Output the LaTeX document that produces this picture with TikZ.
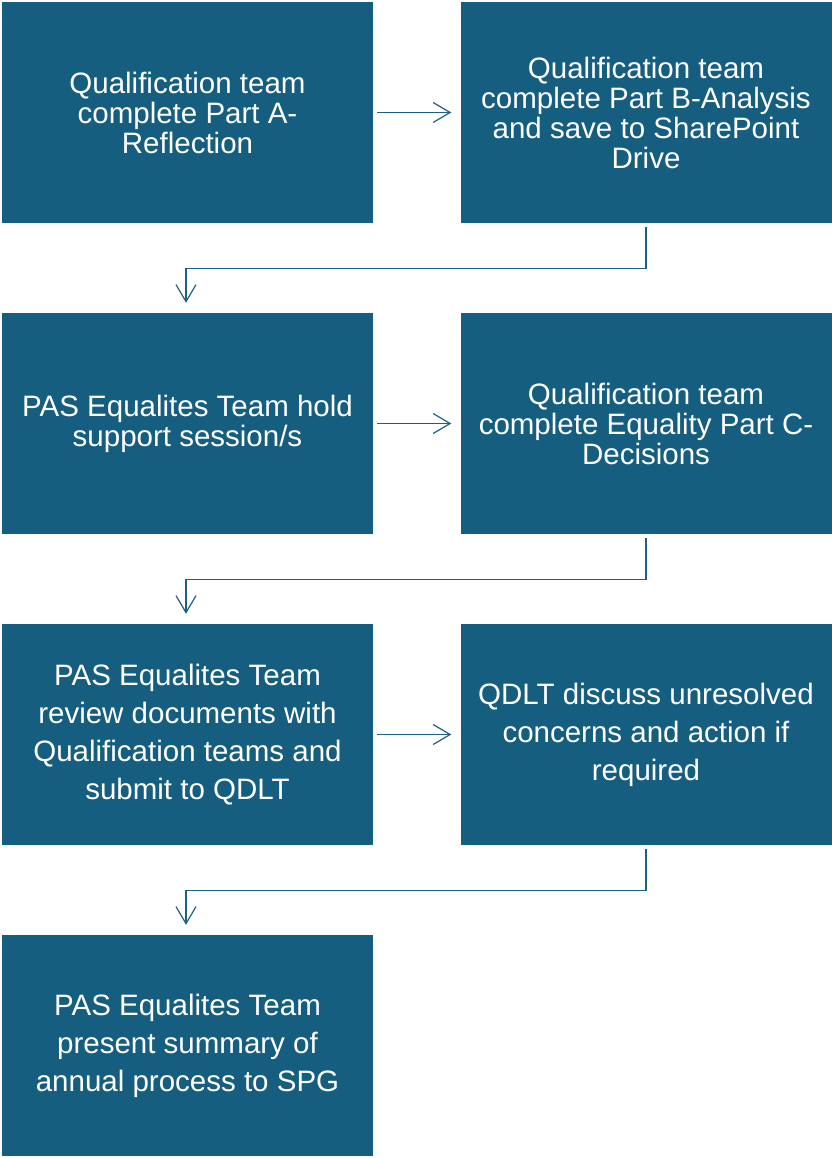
\documentclass[tikz,border=0pt]{standalone}
\usepackage{fontspec}
\setmainfont{Liberation Sans}
\usetikzlibrary{arrows.meta}
\definecolor{boxblue}{RGB}{22,94,128}
\definecolor{lineblue}{RGB}{30,96,130}
\tikzset{
  stepbox/.style={fill=boxblue, draw=none, minimum width=371pt, minimum height=221pt,
    inner sep=0pt, align=center, text=white, font=\fontsize{29.5}{30}\selectfont},
  widebox/.style={stepbox, font=\fontsize{29.5}{38}\selectfont},
  conn/.style={draw=lineblue, line width=1.2pt, -{Straight Barb[length=17pt,width=20pt,line width=1.2pt]}}
}
\begin{document}
\begin{tikzpicture}[x=1pt,y=-1pt]
\useasboundingbox (0,0) rectangle (831,1158);
\node[stepbox] (a) at (187.5,112.5) {Qualification team\\complete Part A-\\Reflection};
\node[stepbox] (b) at (646,112.5) {Qualification team\\complete Part B-Analysis\\and save to SharePoint\\Drive};
\node[stepbox] (c) at (187.5,423.5) {PAS Equalites Team hold\\support session/s};
\node[stepbox] (d) at (646,423.5) {Qualification team\\complete Equality Part C-\\Decisions};
\node[widebox] (e) at (187.5,734.5) {PAS Equalites Team\\review documents with\\Qualification teams and\\submit to QDLT};
\node[widebox] (f) at (646,734.5) {QDLT discuss unresolved\\concerns and action if\\required};
\node[widebox] (g) at (187.5,1045.5) {PAS Equalites Team\\present summary of\\annual process to SPG};
\draw[conn] ([xshift=4pt]a.east) -- ([xshift=-9pt]b.west);
\draw[conn] ([xshift=4pt]c.east) -- ([xshift=-9pt]d.west);
\draw[conn] ([xshift=4pt]e.east) -- ([xshift=-9pt]f.west);
\draw[conn] ([yshift=-4pt]b.south) |- ++(0,41) -| ([xshift=-1.5pt,yshift=10pt]c.north);
\draw[conn] ([yshift=-4pt]d.south) |- ++(0,41) -| ([xshift=-1.5pt,yshift=10pt]e.north);
\draw[conn] ([yshift=-4pt]f.south) |- ++(0,41) -| ([xshift=-1.5pt,yshift=10pt]g.north);
\end{tikzpicture}
\end{document}
